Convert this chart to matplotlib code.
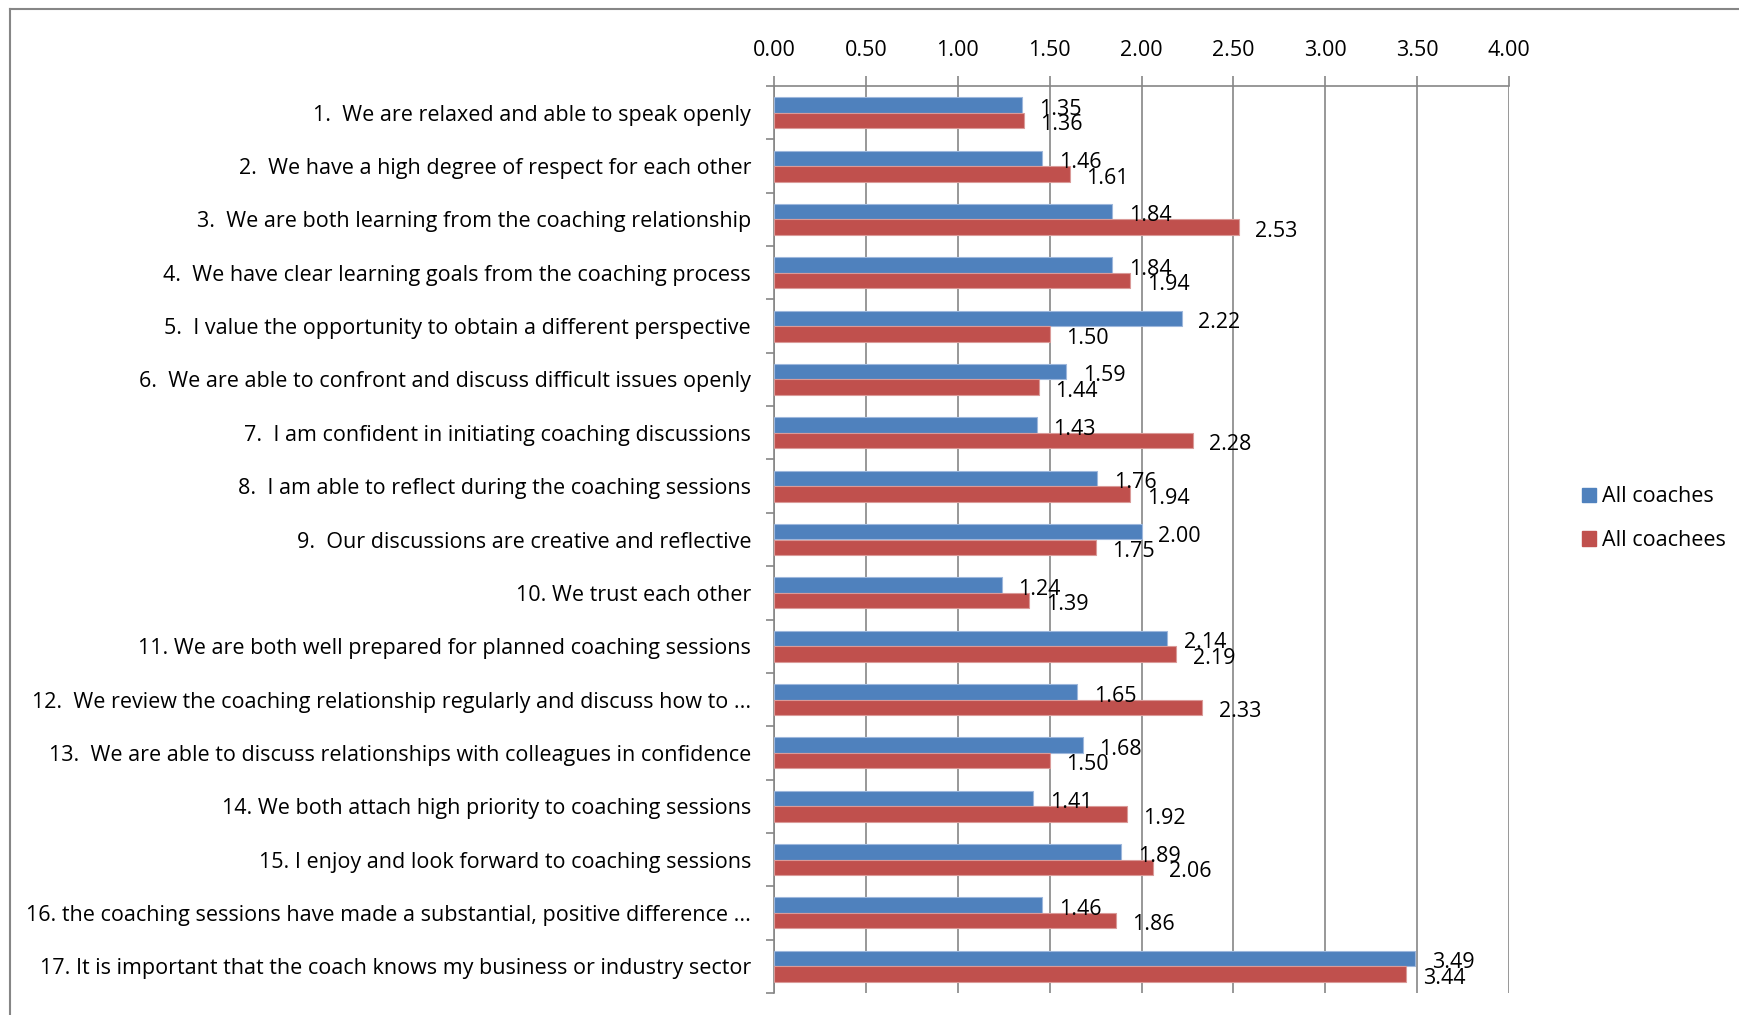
import matplotlib.pyplot as plt
from matplotlib.patches import Patch
from matplotlib.lines import Line2D
import numpy as np

# Data
statements = [
    "1.  We are relaxed and able to speak openly",
    "2.  We have a high degree of respect for each other",
    "3.  We are both learning from the coaching relationship",
    "4.  We have clear learning goals from the coaching process",
    "5.  I value the opportunity to obtain a different perspective",
    "6.  We are able to confront and discuss difficult issues openly",
    "7.  I am confident in initiating coaching discussions",
    "8.  I am able to reflect during the coaching sessions",
    "9.  Our discussions are creative and reflective",
    "10. We trust each other",
    "11. We are both well prepared for planned coaching sessions",
    "12.  We review the coaching relationship regularly and discuss how to ...",
    "13.  We are able to discuss relationships with colleagues in confidence",
    "14. We both attach high priority to coaching sessions",
    "15. I enjoy and look forward to coaching sessions",
    "16. the coaching sessions have made a substantial, positive difference ...",
    "17. It is important that the coach knows my business or industry sector",
]
coaches = [1.35, 1.46, 1.84, 1.84, 2.22, 1.59, 1.43, 1.76, 2.00, 1.24,
           2.14, 1.65, 1.68, 1.41, 1.89, 1.46, 3.49]
coachees = [1.36, 1.61, 2.53, 1.94, 1.50, 1.44, 2.28, 1.94, 1.75, 1.39,
            2.19, 2.33, 1.50, 1.92, 2.06, 1.86, 3.44]
x_ticks = [0.0, 0.5, 1.0, 1.5, 2.0, 2.5, 3.0, 3.5, 4.0]

plt.rcParams['font.family'] = ['Open Sans', 'DejaVu Sans']

blue = '#4F81BD'
red = '#C0504D'
grid_c = '#868686'

W, H = 1739, 1015
fig = plt.figure(figsize=(W / 100, H / 100), dpi=100)
ax = fig.add_axes([774 / W, 1 - 993 / H, (1509 - 774) / W, (993 - 86) / H])

y = np.arange(len(statements))
h = 0.29
ax.barh(y - h / 2, coaches, height=h, color=blue, edgecolor='#9DB7DC', linewidth=0.8, zorder=3)
ax.barh(y + h / 2, coachees, height=h, color=red, edgecolor='#DA9A98', linewidth=0.8, zorder=3)

for i in range(len(statements)):
    ax.text(coaches[i] + 0.09, y[i] - h / 2 + 0.08, f"{coaches[i]:.2f}", va='center', ha='left',
            fontsize=15.5, zorder=4)
    ax.text(coachees[i] + 0.09, y[i] + h / 2 + 0.08, f"{coachees[i]:.2f}", va='center', ha='left',
            fontsize=15.5, zorder=4)

ax.set_xlim(0, 4)
ax.set_ylim(len(statements) - 0.5, -0.5)
ax.set_xticks(x_ticks)
ax.set_xticklabels([f"{v:.2f}" for v in x_ticks], fontsize=15.5)
ax.xaxis.tick_top()
ax.tick_params(axis='x', which='major', length=7, color=grid_c, width=1.2, pad=11)
ax.grid(axis='x', color=grid_c, linewidth=1.2, zorder=0)

ax.set_yticks(y)
ax.set_yticklabels(statements, fontsize=15.5)
ax.set_yticks(np.arange(-0.5, len(statements), 1.0), minor=True)
ax.tick_params(axis='y', which='major', length=0, pad=16.5)
ax.tick_params(axis='y', which='minor', length=6, color=grid_c, width=1.2)

for s in ['right', 'bottom']:
    ax.spines[s].set_visible(False)
for s in ['top', 'left']:
    ax.spines[s].set_color(grid_c)
    ax.spines[s].set_linewidth(1.2)

# outer chart border (left and top visible)
fig.add_artist(Line2D([10 / W, 10 / W], [0, 1 - 9 / H], color=grid_c, linewidth=1.5))
fig.add_artist(Line2D([10 / W, 1], [1 - 9 / H, 1 - 9 / H], color=grid_c, linewidth=1.5))

handles = [Patch(facecolor=blue, edgecolor=blue, label='All coaches'),
           Patch(facecolor=red, edgecolor=red, label='All coachees')]
fig.legend(handles=handles, loc='upper left', bbox_to_anchor=(1563 / W, 1 - 467 / H),
           frameon=False, fontsize=15.5, handlelength=0.65, handleheight=0.65,
           handletextpad=0.25, labelspacing=1.05)

plt.savefig('out.png', dpi=100)
plt.close()
